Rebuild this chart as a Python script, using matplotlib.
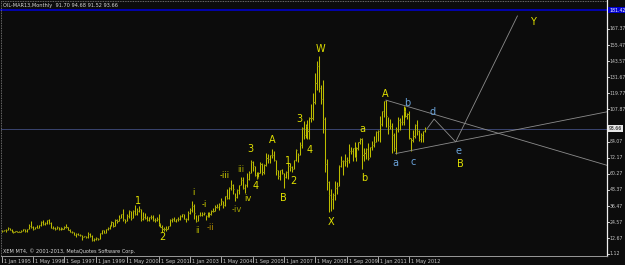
import matplotlib
matplotlib.use("Agg")
import matplotlib.pyplot as plt
from matplotlib.lines import Line2D
from matplotlib import font_manager

# ---------------- data (monthly, Jan 1995 .. Jan 2013) ----------------
highs = [
 18.70, 18.80, 19.30, 20.70, 20.40, 19.20, 17.90, 18.20, 18.10, 17.90, 18.50, 19.70,
 19.70, 19.80, 23.00, 25.50, 22.00, 21.20, 22.80, 22.50, 25.10, 26.00, 24.50, 26.00,
 26.60, 24.60, 21.80, 20.80, 22.00, 20.90, 20.70, 20.60, 21.40, 23.60, 21.30, 19.40,
 18.20, 17.00, 16.50, 16.50, 15.90, 15.30, 14.60, 14.70, 17.00, 16.30, 14.80, 12.60,
 13.30, 13.00, 16.80, 18.80, 18.70, 19.50, 20.80, 22.30, 25.60, 24.70, 26.70, 27.20,
 30.00, 30.90, 34.40, 26.90, 30.60, 33.40, 32.70, 33.40, 37.20, 35.30, 36.20, 34.50,
 32.30, 31.30, 29.10, 28.70, 29.60, 29.80, 27.50, 28.40, 31.00, 23.80, 22.50, 21.00,
 21.50, 22.00, 26.60, 28.00, 28.50, 27.00, 28.20, 30.00, 31.00, 30.50, 27.80, 32.70,
 35.10, 39.99, 38.00, 30.00, 30.10, 31.80, 32.10, 32.40, 29.90, 32.30, 32.20, 33.70,
 35.20, 37.00, 38.20, 38.50, 42.30, 40.00, 44.20, 49.40, 50.50, 55.70, 53.00, 46.50,
 49.00, 52.20, 57.70, 58.00, 53.00, 60.90, 62.30, 70.85, 70.00, 66.20, 62.00, 61.80,
 69.20, 68.40, 67.90, 75.40, 74.90, 74.20, 78.40, 76.90, 70.50, 63.40, 63.40, 64.00,
 61.10, 62.30, 68.10, 68.30, 66.40, 70.80, 78.80, 76.00, 83.90, 94.70, 99.30, 96.80,
 100.10, 102.60, 111.80, 119.90, 135.10, 143.70, 147.27, 126.20, 130.00, 102.00, 71.00, 54.70,
 49.20, 45.80, 54.70, 54.40, 66.70, 73.40, 70.90, 75.00, 72.80, 82.00, 80.50, 79.60,
 83.95, 80.50, 83.90, 87.15, 87.00, 79.40, 79.60, 83.00, 80.30, 84.40, 88.60, 92.00,
 92.60, 103.40, 106.95, 113.90, 114.83, 102.40, 100.60, 97.70, 90.50, 94.70, 102.40, 101.30,
 103.70, 110.55, 110.00, 105.60, 106.90, 86.90, 92.90, 97.30, 100.40, 92.60, 90.30, 91.90,
 94.68]
lows = [
 17.60, 17.90, 17.40, 19.10, 18.50, 17.20, 16.80, 17.30, 17.20, 17.00, 17.50, 18.10,
 17.30, 17.60, 19.30, 20.60, 19.00, 19.20, 20.20, 20.30, 22.00, 22.60, 22.50, 23.40,
 23.60, 20.10, 19.60, 19.00, 19.60, 18.60, 19.10, 19.20, 19.20, 20.60, 19.00, 17.50,
 16.40, 15.30, 13.70, 14.90, 14.60, 11.40, 13.80, 12.80, 13.20, 13.60, 10.70, 10.35,
 11.50, 11.40, 12.20, 16.00, 16.50, 16.70, 18.70, 19.80, 21.90, 21.00, 21.70, 24.00,
 25.30, 27.40, 25.60, 23.70, 25.30, 27.80, 26.40, 27.60, 29.60, 29.60, 32.00, 25.50,
 26.00, 26.70, 25.80, 25.50, 27.10, 25.70, 24.60, 25.20, 21.40, 20.90, 17.50, 17.80,
 17.90, 19.50, 21.60, 24.70, 25.20, 24.40, 25.60, 26.30, 28.50, 26.80, 25.00, 26.00,
 31.00, 32.30, 26.90, 24.90, 25.10, 29.50, 29.50, 29.80, 26.00, 28.60, 28.60, 30.20,
 32.20, 32.60, 35.00, 33.50, 37.10, 35.10, 36.80, 41.60, 41.60, 48.50, 45.40, 40.20,
 42.10, 45.10, 51.70, 49.10, 46.20, 50.90, 55.80, 60.60, 62.10, 59.00, 56.20, 57.80,
 60.80, 59.20, 60.50, 65.90, 68.30, 68.00, 72.00, 69.80, 59.50, 56.50, 55.50, 60.40,
 49.90, 57.20, 56.30, 62.70, 61.60, 63.80, 69.90, 69.00, 73.90, 79.20, 86.00, 86.60,
 86.10, 86.10, 98.70, 100.00, 112.20, 122.00, 121.10, 112.10, 90.50, 62.00, 48.30, 32.40,
 33.20, 34.00, 40.90, 45.10, 51.00, 65.00, 59.50, 66.00, 65.00, 68.10, 75.00, 69.50,
 72.40, 69.50, 77.80, 82.00, 64.20, 69.70, 71.40, 70.80, 72.60, 78.20, 79.90, 84.00,
 84.60, 84.10, 96.00, 102.60, 95.00, 89.60, 93.60, 75.70, 77.10, 74.95, 91.00, 92.50,
 96.30, 96.70, 102.10, 101.10, 86.10, 77.30, 83.70, 86.60, 88.90, 84.40, 84.00, 84.00,
 91.52]
closes = [
 18.39, 18.49, 19.17, 20.38, 18.89, 17.40, 17.56, 17.84, 17.54, 17.64, 18.18, 19.55,
 17.74, 19.54, 21.47, 21.20, 19.76, 20.92, 20.42, 22.25, 24.38, 23.35, 23.75, 25.92,
 24.15, 20.30, 20.41, 19.71, 20.82, 19.80, 20.14, 19.61, 21.18, 20.95, 19.15, 17.64,
 17.21, 15.44, 15.61, 15.39, 15.20, 13.72, 14.17, 13.39, 16.14, 14.42, 11.22, 12.05,
 12.75, 12.27, 16.76, 18.66, 16.84, 19.29, 20.53, 22.11, 24.51, 21.75, 26.40, 25.60,
 27.64, 30.43, 26.90, 25.74, 29.01, 32.50, 27.43, 33.12, 30.84, 32.70, 34.40, 26.80,
 28.66, 27.39, 26.29, 28.46, 28.37, 26.25, 26.35, 27.20, 23.43, 21.18, 19.44, 19.84,
 19.48, 21.74, 26.31, 27.29, 25.31, 26.86, 27.02, 28.98, 30.45, 27.22, 26.89, 31.20,
 33.51, 36.60, 31.04, 25.80, 29.56, 30.19, 30.54, 31.57, 29.20, 29.11, 30.41, 32.52,
 33.05, 36.16, 35.76, 37.38, 39.88, 37.05, 43.80, 42.12, 49.64, 51.76, 49.13, 43.45,
 48.20, 51.75, 55.40, 49.72, 51.97, 56.50, 60.57, 68.94, 66.24, 59.76, 57.32, 61.04,
 67.92, 61.41, 66.63, 71.88, 71.29, 73.93, 74.40, 70.26, 62.91, 58.73, 63.13, 61.05,
 58.14, 61.79, 65.87, 65.71, 64.01, 70.68, 78.21, 74.04, 81.66, 94.53, 88.71, 95.98,
 91.75, 101.84, 101.58, 113.46, 127.35, 140.00, 124.08, 115.46, 100.64, 67.81, 54.43, 44.60,
 41.68, 44.76, 49.66, 51.12, 66.31, 69.89, 69.45, 69.96, 70.61, 77.00, 77.28, 79.36,
 72.89, 79.66, 83.76, 86.15, 73.97, 75.63, 78.95, 71.92, 79.97, 81.43, 84.11, 91.38,
 92.19, 96.97, 106.72, 113.93, 102.70, 95.42, 95.70, 88.81, 79.20, 93.19, 100.36, 98.83,
 98.48, 107.07, 103.02, 104.87, 86.53, 84.96, 88.06, 96.47, 92.19, 86.24, 88.91, 91.82,
 93.66]

title_text = "OIL-MAR13,Monthly  91.70 94.68 91.52 93.66"
copyright_text = "XEM MT4, \u00a9 2001-2013, MetaQuotes Software Corp."

date_labels = ["1 Jan 1995", "1 May 1996", "1 Sep 1997", "1 Jan 1999", "1 May 2000",
               "1 Sep 2001", "1 Jan 2003", "1 May 2004", "1 Sep 2005", "1 Jan 2007",
               "1 May 2008", "1 Sep 2009", "1 Jan 2011", "1 May 2012"]
date_months = [0, 16, 32, 48, 64, 80, 96, 112, 128, 144, 160, 176, 192, 208]

price_labels = [1.12, 12.67, 24.57, 36.47, 48.37, 60.27, 72.17, 84.07,
                107.87, 119.77, 131.67, 143.57, 155.47, 167.37]
last_price = 93.66
blue_level = 181.42

# trend lines (month index, price)
upper_x = [196, 310]
upper_y = [114.8, 66.1]
lower_x = [201, 310]
lower_y = [75.3, 106.5]
path_x = [217, 220.6, 231.6, 263.1]
path_y = [93.7, 100.8, 83.9, 177.0]

# wave labels: text, month index, price, colour key
wave_labels = [
    ("1", 69.7, 40.0, "Y"), ("2", 81.9, 13.3, "Y"),
    ("i", 97.9, 46.4, "y"), ("-i", 103.1, 37.3, "y"), ("ii", 100.0, 18.3, "o"),
    ("-ii", 106.3, 20.8, "d"), ("-iii", 113.9, 59.2, "y"), ("iii", 121.9, 63.7, "o"),
    ("3", 126.7, 78.5, "Y"), ("4", 129.7, 51.3, "Y"), ("iv", 125.8, 42.2, "y"),
    ("-iv", 119.9, 33.6, "o"), ("A", 137.9, 85.3, "Y"), ("1", 145.9, 69.8, "Y"),
    ("2", 148.8, 54.7, "Y"), ("B", 143.7, 42.2, "Y"), ("3", 151.8, 100.8, "Y"),
    ("4", 156.9, 77.6, "Y"), ("W", 162.8, 152.6, "Y"), ("X", 167.9, 24.9, "Y"),
    ("a", 184.0, 93.5, "Y"), ("b", 185.0, 57.5, "Y"), ("A", 195.9, 119.1, "Y"),
    ("b", 206.8, 112.9, "B"), ("d", 220.0, 106.2, "B"), ("a", 201.0, 68.1, "B"),
    ("c", 209.8, 68.8, "B"), ("e", 233.0, 77.4, "B"), ("B", 234.0, 67.4, "Y"),
    ("Y", 271.2, 172.8, "Y"),
]

# ---------------- layout ----------------
names = {f.name for f in font_manager.fontManager.ttflist}
HAS_NARROW = "Liberation Sans Narrow" in names
SMALL = ["Liberation Sans Narrow", "DejaVu Sans"] if HAS_NARROW else ["DejaVu Sans"]
SMALL_SIZE = 4.5 if HAS_NARROW else 3.6
PRICE_SIZE = 4.0 if HAS_NARROW else 3.3

W, H = 625, 265
BG = "#0c0c0c"
fig = plt.figure(figsize=(W / 100, H / 100), dpi=100, facecolor=BG)
x0, x1, y0, y1 = 1, 607, 1, 256
ax = fig.add_axes([x0 / W, 1 - y1 / H, (x1 - x0) / W, (y1 - y0) / H])
ax.set_facecolor(BG)
ax.set_xlim(-0.36, 308.8)
ax.set_ylim(-0.41, 188.05)
ax.set_xticks([]); ax.set_yticks([])
for s in ax.spines.values():
    s.set_visible(False)

def fx(px):
    return px / W
def fy(py):
    return 1 - py / H

# bars
n = len(highs)
idx = list(range(n))
ax.vlines(idx, lows, highs, colors="#bcbc00", linewidth=0.75)
ax.hlines(closes, [i for i in idx], [i + 0.6 for i in idx], colors="#8a8a10", linewidth=0.8)

# horizontal levels
ax.axhline(last_price, color="#3a4470", linewidth=0.7, zorder=0)
fig.add_artist(Line2D([0, 1], [fy(10), fy(10)], color="#0000c8", linewidth=1.2))

# trend lines
for xs, ys in ((upper_x, upper_y), (lower_x, lower_y), (path_x, path_y)):
    ax.plot(xs, ys, color="#8c8c8c", linewidth=0.6)

colors = {"Y": "#e0e000", "y": "#d0d000", "o": "#a0a000", "d": "#b08a00", "B": "#6aa2d8"}
for t, xm, p, c in wave_labels:
    size = 7 if c in ("Y", "B") else 6
    ax.text(xm, p, t, color=colors[c], fontsize=size, ha="center", va="center",
            family="DejaVu Sans")

# frame
fig.add_artist(Line2D([fx(1), fx(1)], [fy(1), fy(256)], color="#8a8a8a", linewidth=0.6, linestyle=(0, (1, 1))))
fig.add_artist(Line2D([fx(1), fx(607)], [fy(1), fy(1)], color="#8a8a8a", linewidth=0.6, linestyle=(0, (1, 1))))
fig.add_artist(Line2D([fx(607), fx(607)], [fy(0), fy(256)], color="#f0f0f0", linewidth=0.9))
fig.add_artist(Line2D([fx(1), fx(607)], [fy(256), fy(256)], color="#9a9a9a", linewidth=0.7))

# price scale
txtc = "#c8c8c8"
def price_py(p):
    return y1 - (p - (-0.41)) / (188.05 + 0.41) * (y1 - y0)
for p in price_labels:
    py = price_py(p)
    fig.add_artist(Line2D([fx(607), fx(609)], [fy(py), fy(py)], color="#f0f0f0", linewidth=0.6))
    fig.text(fx(609.5), fy(py), f"{p:.2f}", color=txtc, fontsize=PRICE_SIZE, ha="left", va="center",
             family=SMALL)
py = price_py(last_price)
fig.text(fx(609), fy(py), f"{last_price:.2f}", color="#000000", fontsize=PRICE_SIZE, ha="left", va="center",
         family=SMALL, bbox=dict(boxstyle="square,pad=0.2", fc="#e8e8e8", ec="none"))
fig.text(fx(609), fy(10), f"{blue_level:.2f}", color="#ffffff", fontsize=PRICE_SIZE, ha="left", va="center",
         family=SMALL, bbox=dict(boxstyle="square,pad=0.2", fc="#0000d0", ec="none"))

# time scale
def month_px(m):
    return x0 + (m + 0.36) / (308.8 + 0.36) * (x1 - x0)
for lab, m in zip(date_labels, date_months):
    px = month_px(m)
    fig.add_artist(Line2D([fx(px), fx(px)], [fy(257), fy(262)], color="#c8c8c8", linewidth=0.6))
    fig.text(fx(px + 2), fy(261), lab, color=txtc, fontsize=SMALL_SIZE, ha="left", va="center",
             family=SMALL)

fig.text(fx(3), fy(5), title_text, color="#d8d8d8", fontsize=SMALL_SIZE, ha="left", va="center", family=SMALL)
fig.text(fx(3), fy(251), copyright_text, color="#d8d8d8", fontsize=SMALL_SIZE, ha="left", va="center", family=SMALL)

fig.savefig("out.png", dpi=100, facecolor=BG)
